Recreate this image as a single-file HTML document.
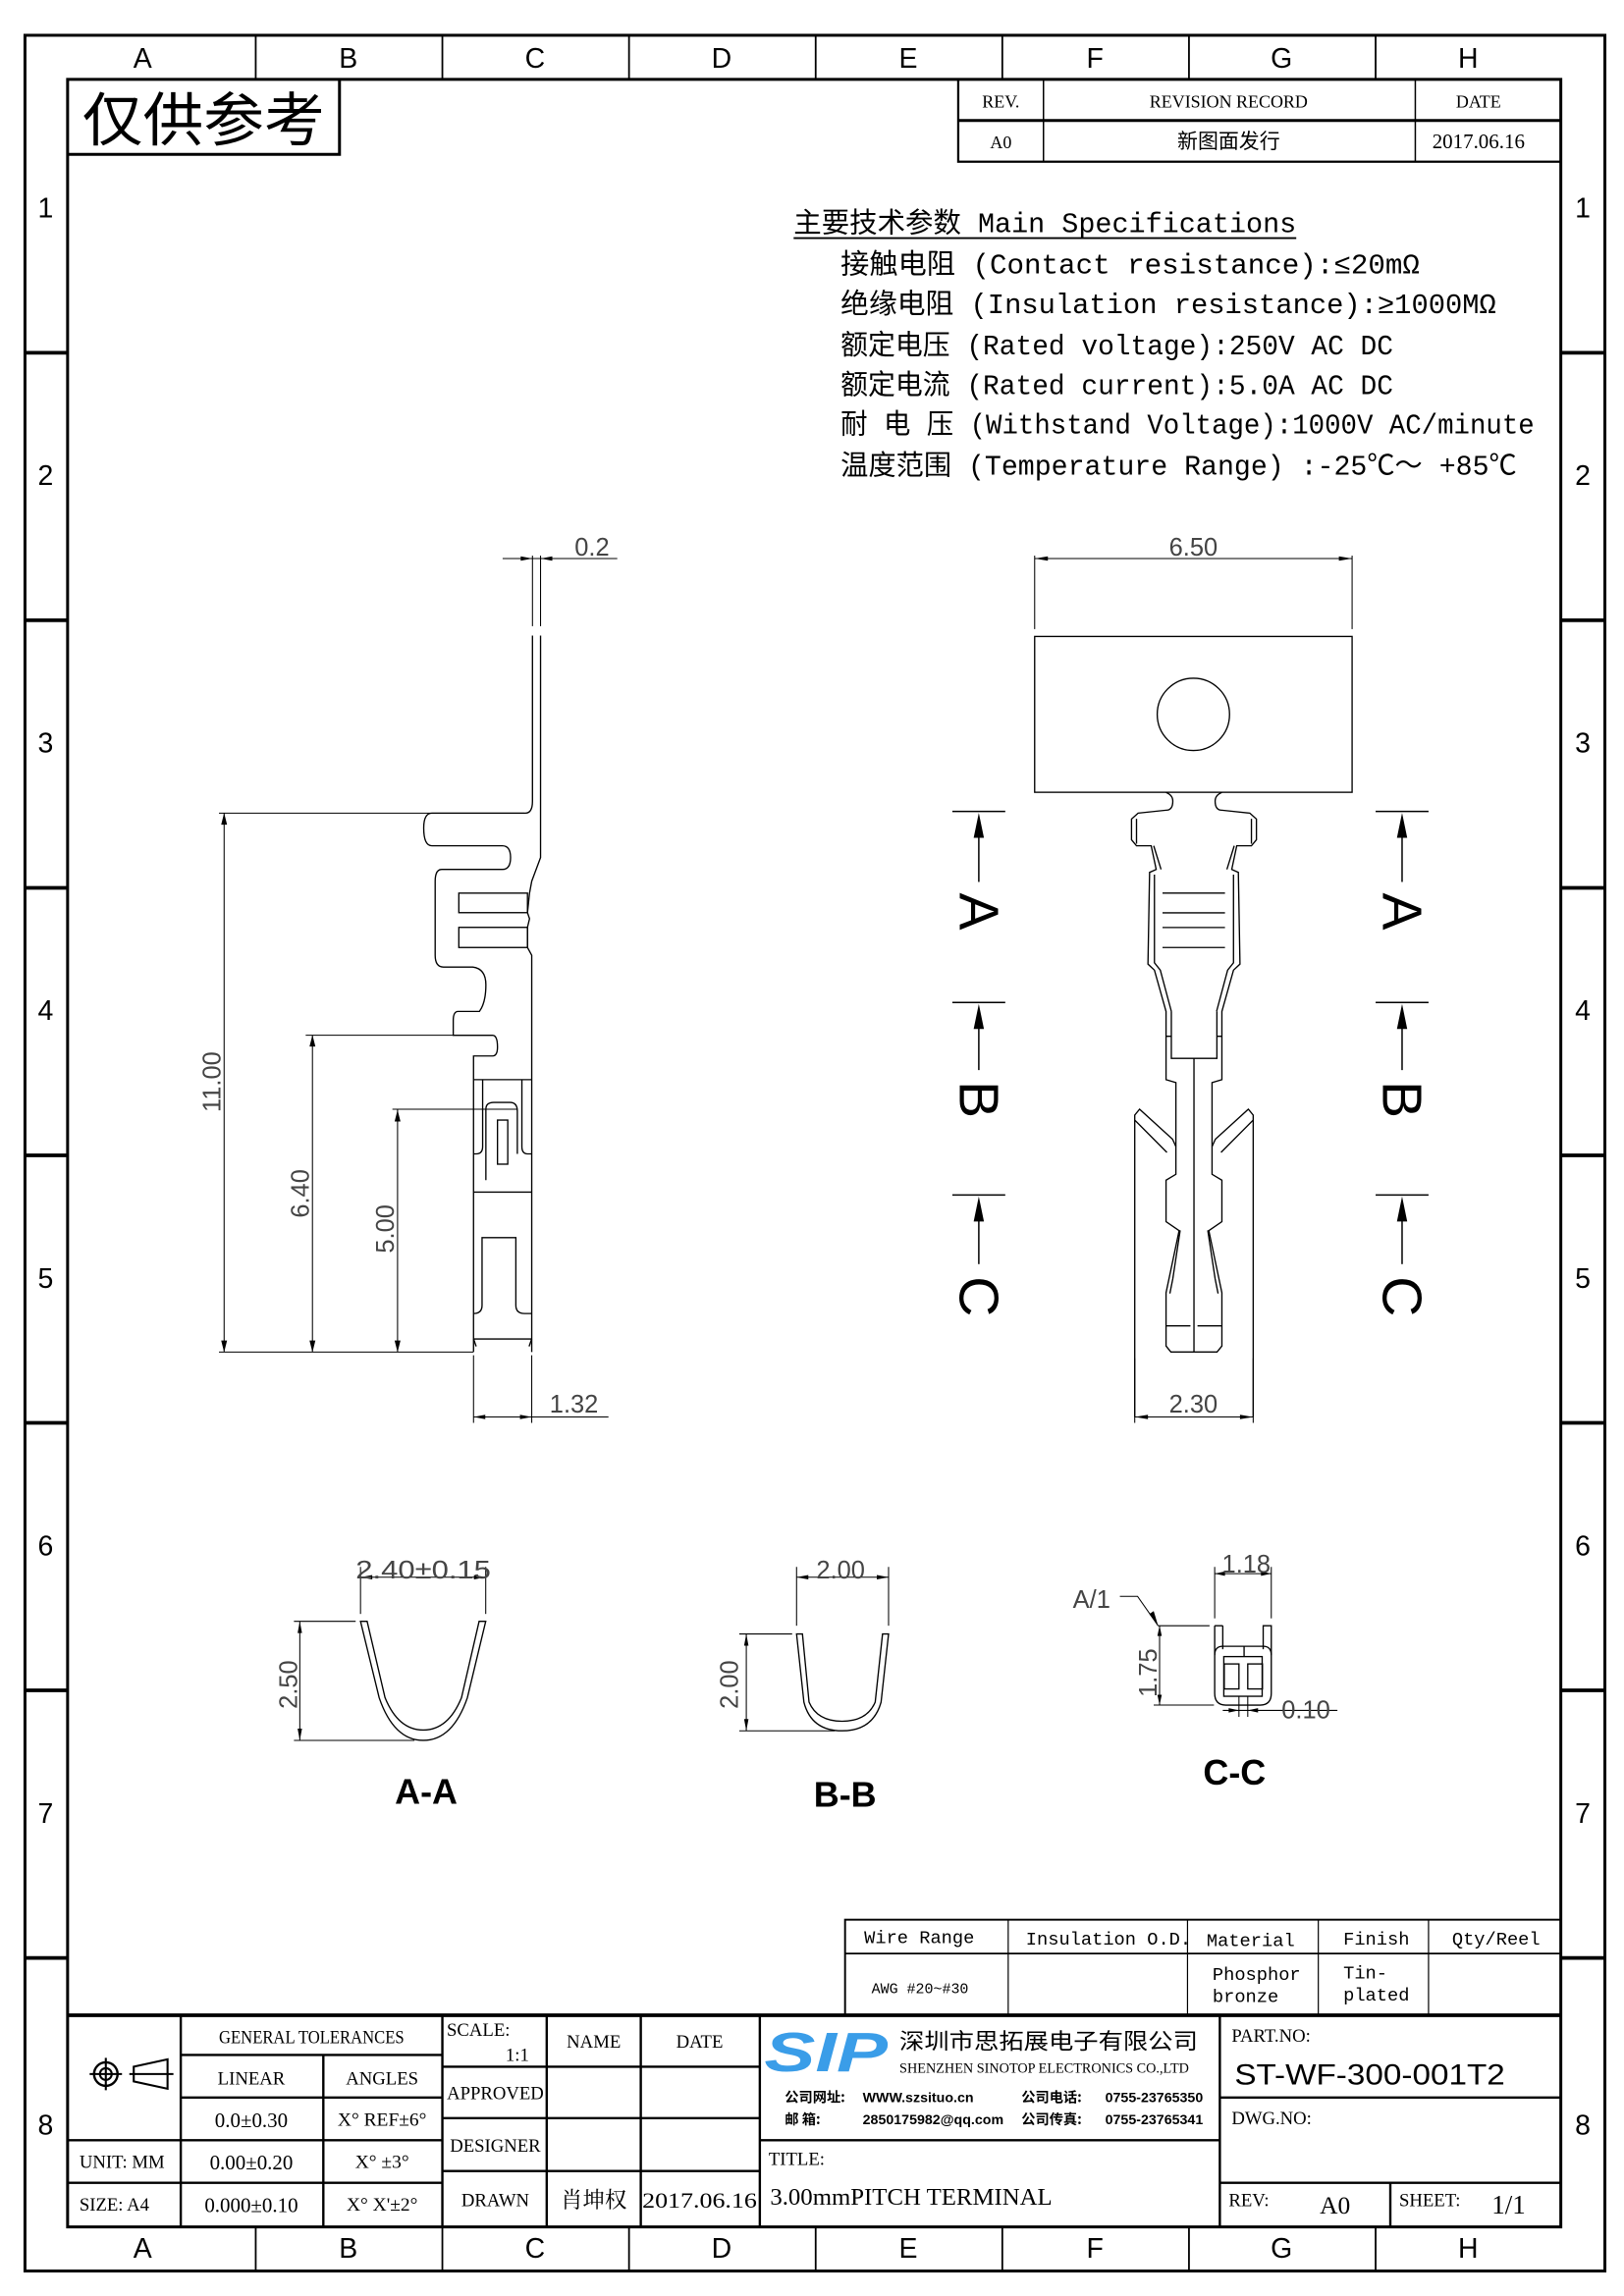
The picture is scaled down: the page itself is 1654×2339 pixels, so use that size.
<!DOCTYPE html>
<html><head><meta charset="utf-8"><style>
html,body{margin:0;padding:0;background:#fff}
svg{display:block}
text{font-family:"Liberation Serif","Noto Serif CJK SC",serif;fill:#000}
.s,.s text{font-family:"Liberation Sans","Noto Sans CJK SC",sans-serif}
.m,.m text{font-family:"Liberation Mono","Noto Sans CJK SC",monospace}
.d,.d text{font-family:"Liberation Sans",sans-serif;fill:#444;font-size:17px}
</style></head><body>
<svg width="1654" height="2339" viewBox="0 0 1105 1562" preserveAspectRatio="none" xmlns="http://www.w3.org/2000/svg">
<g fill="none" stroke="#000">
<rect x="17" y="24" width="1075" height="1521" stroke-width="2"/>
<rect x="46" y="54" width="1016" height="1461" stroke-width="2"/>
<g stroke-width="1.2">
<line x1="174" y1="24" x2="174" y2="54"/><line x1="301" y1="24" x2="301" y2="54"/><line x1="428" y1="24" x2="428" y2="54"/><line x1="555" y1="24" x2="555" y2="54"/><line x1="682" y1="24" x2="682" y2="54"/><line x1="809" y1="24" x2="809" y2="54"/><line x1="936" y1="24" x2="936" y2="54"/>
<line x1="174" y1="1515" x2="174" y2="1545"/><line x1="301" y1="1515" x2="301" y2="1545"/><line x1="428" y1="1515" x2="428" y2="1545"/><line x1="555" y1="1515" x2="555" y2="1545"/><line x1="682" y1="1515" x2="682" y2="1545"/><line x1="809" y1="1515" x2="809" y2="1545"/><line x1="936" y1="1515" x2="936" y2="1545"/>
</g>
<g stroke-width="2.5">
<line x1="17" y1="240" x2="46" y2="240"/><line x1="17" y1="422" x2="46" y2="422"/><line x1="17" y1="604" x2="46" y2="604"/><line x1="17" y1="786" x2="46" y2="786"/><line x1="17" y1="968" x2="46" y2="968"/><line x1="17" y1="1150" x2="46" y2="1150"/><line x1="17" y1="1332" x2="46" y2="1332"/>
<line x1="1062" y1="240" x2="1092" y2="240"/><line x1="1062" y1="422" x2="1092" y2="422"/><line x1="1062" y1="604" x2="1092" y2="604"/><line x1="1062" y1="786" x2="1092" y2="786"/><line x1="1062" y1="968" x2="1092" y2="968"/><line x1="1062" y1="1150" x2="1092" y2="1150"/><line x1="1062" y1="1332" x2="1092" y2="1332"/>
</g>
<polyline points="46,105 231,105 231,54" stroke-width="2"/>
<rect x="652" y="54" width="410" height="56" stroke-width="1.5"/>
<line x1="652" y1="82" x2="1062" y2="82" stroke-width="2"/>
<line x1="710" y1="54" x2="710" y2="110" stroke-width="1"/><line x1="963" y1="54" x2="963" y2="110" stroke-width="1"/>
</g>
<g class="s" font-size="19" text-anchor="middle">
<text x="97" y="46">A</text><text x="237" y="46">B</text><text x="364" y="46">C</text><text x="491" y="46">D</text><text x="618" y="46">E</text><text x="745" y="46">F</text><text x="872" y="46">G</text><text x="999" y="46">H</text>
<text x="97" y="1536">A</text><text x="237" y="1536">B</text><text x="364" y="1536">C</text><text x="491" y="1536">D</text><text x="618" y="1536">E</text><text x="745" y="1536">F</text><text x="872" y="1536">G</text><text x="999" y="1536">H</text>
<text x="31" y="148">1</text><text x="31" y="330">2</text><text x="31" y="512">3</text><text x="31" y="694">4</text><text x="31" y="876">5</text><text x="31" y="1058">6</text><text x="31" y="1240">7</text><text x="31" y="1452">8</text>
<text x="1077" y="148">1</text><text x="1077" y="330">2</text><text x="1077" y="512">3</text><text x="1077" y="694">4</text><text x="1077" y="876">5</text><text x="1077" y="1058">6</text><text x="1077" y="1240">7</text><text x="1077" y="1452">8</text>
</g>
<text x="56" y="96" font-size="40" textLength="165" lengthAdjust="spacingAndGlyphs" style="font-family:'Noto Sans CJK SC',sans-serif">仅供参考</text>
<g font-size="12" text-anchor="middle">
<text x="681" y="73">REV.</text><text x="836" y="73">REVISION RECORD</text><text x="1006" y="73">DATE</text>
<text x="681" y="101">A0</text><text x="836" y="101" style="font-family:'Noto Sans CJK SC',sans-serif" font-size="14">新图面发行</text><text x="1006" y="101" font-size="14">2017.06.16</text>
</g>
<g class="m" font-size="19">
<text x="540" y="158" textLength="342" lengthAdjust="spacingAndGlyphs">主要技术参数 Main Specifications</text>
<text x="572" y="186" textLength="394" lengthAdjust="spacingAndGlyphs">接触电阻 (Contact resistance):≤20mΩ</text>
<text x="572" y="213" textLength="446" lengthAdjust="spacingAndGlyphs">绝缘电阻 (Insulation resistance):≥1000MΩ</text>
<text x="572" y="241" textLength="376" lengthAdjust="spacingAndGlyphs">额定电压 (Rated voltage):250V AC DC</text>
<text x="572" y="268" textLength="376" lengthAdjust="spacingAndGlyphs">额定电流 (Rated current):5.0A AC DC</text>
<text x="572" y="295" textLength="472" lengthAdjust="spacingAndGlyphs">耐 电 压 (Withstand Voltage):1000V AC/minute</text>
<text x="572" y="323" textLength="460" lengthAdjust="spacingAndGlyphs">温度范围 (Temperature Range) :-25℃～ +85℃</text>
</g>
<line x1="540" y1="162" x2="882" y2="162" stroke="#000" stroke-width="1.2"/>

<g fill="none" stroke="#000" stroke-width="0.9">
<path d="M367.8,432.4 L367.8,583.4 L361.8,599.5 L360.3,607.6 L358.9,620.9 L360.3,625 L358.9,630.9 L358.9,644.6 L361.8,649.9 L361.8,919.8"/>
<path d="M362.3,432.4 L362.3,545.1 Q362.3,553.2 357.4,553.2 L293.9,553.2 Q288.3,553.2 288.3,563.3 Q288.3,575.4 293.9,575.4 L341.8,575.4 Q347.4,575.4 347.4,583.4 Q347.4,591.5 341.8,591.5 L300.6,591.5 Q296.1,591.5 296.1,599.5 L296.1,649.9 Q296.1,657.9 301.7,657.9 L321.7,657.9 Q330.6,659 330.6,670 Q330.6,682.1 326.2,688.1 L311.7,688.1 Q308.4,688.1 308.4,694.2 L308.4,704.3 L335.1,704.3 Q338.5,704.3 338.5,712.3 Q338.5,718.4 335.1,718.4 L322.2,718.4 L322.2,919.8"/>
<rect x="312.2" y="607.6" width="46.7" height="13.3"/>
<rect x="312.2" y="630.9" width="46.7" height="13.7"/>
<path d="M322.2,734.5 L361.8,734.5 M328.4,734.5 L328.4,780 Q328.4,785 324,785 L322.2,785 M355.1,734.5 L355.1,780 Q355.1,785 359,785 L361.8,785"/>
<path d="M330.6,802.9 L330.6,754.6 Q330.6,750 336,750 L347,750 Q352,750 352,756 L352,785"/>
<rect x="338.5" y="762" width="7" height="30"/>
<line x1="322.2" y1="811" x2="361.8" y2="811"/>
<path d="M322.2,893.6 Q328,893.6 328,888 L328,842 L351,842 L351,888 Q351,893.6 357,893.6 L361.8,893.6"/>
<path d="M322.2,910.9 L361.8,910.9 M322.2,910.9 L324,916 M361.8,910.9 L360,916"/>
</g>
<g fill="none" stroke="#000" stroke-width="0.7">
<line x1="149" y1="553.2" x2="357" y2="553.2"/><line x1="208" y1="704.3" x2="308" y2="704.3"/><line x1="267" y1="754.6" x2="352" y2="754.6"/>
<line x1="149" y1="919.8" x2="322" y2="919.8"/>
<line x1="152.5" y1="553.2" x2="152.5" y2="919.8"/><line x1="212.6" y1="704.3" x2="212.6" y2="919.8"/><line x1="270.5" y1="754.6" x2="270.5" y2="919.8"/>
<line x1="362.3" y1="378" x2="362.3" y2="426"/><line x1="367.8" y1="378" x2="367.8" y2="426"/><line x1="342" y1="380" x2="420" y2="380"/>
<line x1="322.2" y1="922" x2="322.2" y2="968"/><line x1="361.8" y1="922" x2="361.8" y2="968"/><line x1="322.2" y1="964" x2="414" y2="964"/>
</g>
<g fill="#000">
<path d="M152.5,553 l-2,8 h4z M152.5,920 l-2,-8 h4z M212.6,704 l-2,8 h4z M212.6,920 l-2,-8 h4z M270.5,755 l-2,8 h4z M270.5,920 l-2,-8 h4z"/>
<path d="M362.3,380 l-8,-1.5 v3z M367.8,380 l8,-1.5 v3z M322.2,964 l8,-1.5 v3z M361.8,964 l-8,-1.5 v3z"/>
</g>
<g class="d">
<text x="391" y="378">0.2</text><text x="374" y="961">1.32</text>
<text transform="translate(150,736) rotate(-90)" text-anchor="middle">11.00</text>
<text transform="translate(210,812) rotate(-90)" text-anchor="middle">6.40</text>
<text transform="translate(268,836) rotate(-90)" text-anchor="middle">5.00</text>
</g>

<g fill="none" stroke="#000" stroke-width="0.9">
<rect x="704" y="433" width="216" height="106"/>
<circle cx="812" cy="486" r="24.6"/>
<path id="lh" d="M793.4,539.1 Q798,541 798,545 Q798,551.2 793.4,551.2 L774.4,553.2 L769.9,557.2 L769.9,571.3 L773.3,575.4 L783.3,575.4 L786.7,591.5 L782.2,593.5 L781.1,655.9 L785.5,660 L793.4,688.1 L793.4,734.5 L800.1,736.5 L800.1,798.9 L793.4,802.9 L793.4,831.1 L802.3,837.2 L793.4,879.5 L793.4,915.7 L796.7,919.8 L812.4,919.8"/>
<use href="#lh" transform="translate(1624.8,0) scale(-1,1)"/>
<path d="M773.3,557 L773.3,574 M785,575.4 L790,591.5 M785.5,595 L785.5,655 L789.5,660 L797,688 M797,688 L797,720 L828,720 L828,688 M793.4,705 L797,705 M831.4,705 L828,705"/>
<path d="M851.5,557 L851.5,574 M839.8,575.4 L834.8,591.5 M839.3,595 L839.3,655 L835.3,660 L827.8,688"/>
<line x1="812.4" y1="720" x2="812.4" y2="919.8"/>
<line x1="791" y1="607.6" x2="833.5" y2="607.6"/><line x1="791" y1="621" x2="833.5" y2="621"/><line x1="791" y1="631" x2="833.5" y2="631"/><line x1="791" y1="644.6" x2="833.5" y2="644.6"/>
<path d="M772.1,964 L772.1,758.6 L775.4,754.6 L797.8,775 L800.1,780 M852.7,964 L852.7,758.6 L849.4,754.6 L827,775 L824.7,780"/>
<path d="M772.1,762 L794,784 M852.7,762 L830.8,784"/>
<path d="M803,837 L798,870 L796,880 M821.8,837 L826.8,870 L828.8,880"/>
<path d="M793.4,902 L810,902 M814.8,902 L831.4,902"/>
</g>
<g fill="none" stroke="#000" stroke-width="0.7">
<line x1="704" y1="378" x2="704" y2="428"/><line x1="920" y1="378" x2="920" y2="428"/><line x1="704" y1="380" x2="920" y2="380"/>
<line x1="772.1" y1="964" x2="852.7" y2="964"/><line x1="772.1" y1="924" x2="772.1" y2="968"/><line x1="852.7" y1="924" x2="852.7" y2="968"/>
</g>
<g fill="#000">
<path d="M704,380 l9,-1.5 v3z M920,380 l-9,-1.5 v3z M772.1,964 l9,-1.5 v3z M852.7,964 l-9,-1.5 v3z"/>
</g>
<g class="d"><text x="812" y="378" text-anchor="middle">6.50</text><text x="812" y="961" text-anchor="middle">2.30</text></g>

<g stroke="#000" stroke-width="1" fill="none">
<line x1="648" y1="552" x2="684" y2="552"/><line x1="666" y1="560" x2="666" y2="600"/>
<line x1="648" y1="682" x2="684" y2="682"/><line x1="666" y1="690" x2="666" y2="728"/>
<line x1="648" y1="813" x2="684" y2="813"/><line x1="666" y1="821" x2="666" y2="860"/>
<line x1="936" y1="552" x2="972" y2="552"/><line x1="954" y1="560" x2="954" y2="600"/>
<line x1="936" y1="682" x2="972" y2="682"/><line x1="954" y1="690" x2="954" y2="728"/>
<line x1="936" y1="813" x2="972" y2="813"/><line x1="954" y1="821" x2="954" y2="860"/>
</g>
<g fill="#000">
<path d="M666,553 l-3.5,17 h7z M666,683 l-3.5,17 h7z M666,814 l-3.5,17 h7z M954,553 l-3.5,17 h7z M954,683 l-3.5,17 h7z M954,814 l-3.5,17 h7z"/>
</g>
<g class="s" font-size="38" text-anchor="middle">
<text transform="translate(653,620) rotate(90)">A</text><text transform="translate(653,748) rotate(90)">B</text><text transform="translate(653,882) rotate(90)">C</text>
<text transform="translate(941,620) rotate(90)">A</text><text transform="translate(941,748) rotate(90)">B</text><text transform="translate(941,882) rotate(90)">C</text>
</g>

<g fill="none" stroke="#000" stroke-width="0.9">
<path d="M245.3,1103 L258,1155 Q268,1184 288,1184 Q308,1184 318,1155 L330.5,1103 L326,1103 L314,1155 Q305,1177 288,1177 Q271,1177 262,1155 L249.8,1103 Z"/>
<path d="M542,1111.6 L547,1158 Q552,1177.5 573,1177.5 Q594,1177.5 599.5,1158 L604.6,1111.6 L600.5,1111.6 L595.5,1158 Q590,1171 573,1171 Q556,1171 550.5,1158 L546,1111.6 Z"/>
<path d="M826.5,1106 L826.5,1152 Q826.5,1160 834,1160 L857.5,1160 Q865,1160 865,1152 L865,1106 L859.5,1106 L859.5,1122 M832,1106 L832,1122 M826.5,1106 L832,1106"/>
<path d="M832,1120 L859.5,1120 Q865,1120 865,1126 M832,1120 Q826.5,1120 826.5,1126"/>
<rect x="832.7" y="1127" width="26.1" height="27"/>
<line x1="846.5" y1="1120" x2="846.5" y2="1127"/>
<rect x="833" y="1132" width="10" height="17"/><rect x="849" y="1132" width="10" height="17"/>
</g>
<g fill="none" stroke="#000" stroke-width="0.7">
<line x1="245.3" y1="1066" x2="245.3" y2="1098"/><line x1="330.5" y1="1066" x2="330.5" y2="1098"/><line x1="245.3" y1="1073" x2="330.5" y2="1073"/>
<line x1="200" y1="1103" x2="242" y2="1103"/><line x1="200" y1="1184" x2="282" y2="1184"/><line x1="204" y1="1103" x2="204" y2="1184"/>
<line x1="542" y1="1066" x2="542" y2="1106"/><line x1="604.6" y1="1066" x2="604.6" y2="1106"/><line x1="542" y1="1073" x2="604.6" y2="1073"/>
<line x1="503" y1="1111.6" x2="539" y2="1111.6"/><line x1="503" y1="1177.5" x2="568" y2="1177.5"/><line x1="507.8" y1="1111.6" x2="507.8" y2="1177.5"/>
<line x1="826.5" y1="1066" x2="826.5" y2="1101"/><line x1="865" y1="1066" x2="865" y2="1101"/><line x1="826.5" y1="1070.6" x2="865" y2="1070.6"/>
<polyline points="762,1086 774,1086 788,1106"/><line x1="788" y1="1106" x2="823" y2="1106"/><line x1="789" y1="1106" x2="789" y2="1160"/><line x1="785" y1="1160" x2="826" y2="1160"/>
<line x1="843" y1="1154" x2="843" y2="1168"/><line x1="849" y1="1154" x2="849" y2="1168"/><line x1="832" y1="1163.6" x2="910" y2="1163.6"/>
</g>
<g fill="#000">
<path d="M245.3,1073 l8,-1.5 v3z M330.5,1073 l-8,-1.5 v3z M204,1103 l-1.5,8 h3z M204,1184 l-1.5,-8 h3z M542,1073 l8,-1.5 v3z M604.6,1073 l-8,-1.5 v3z M507.8,1111.6 l-1.5,8 h3z M507.8,1177.5 l-1.5,-8 h3z M826.5,1070.6 l7,-1.5 v3z M865,1070.6 l-7,-1.5 v3z M789,1106 l-1.5,7 h3z M789,1160 l-1.5,-7 h3z M788,1106 l-6,-8 l3,-2z M843,1163.6 l-7,-1.5 v3z M849,1163.6 l7,-1.5 v3z"/>
</g>
<g class="d" font-size="17">
<text x="288" y="1074" text-anchor="middle" textLength="92" lengthAdjust="spacingAndGlyphs">2.40±0.15</text>
<text transform="translate(202,1146) rotate(-90)" text-anchor="middle">2.50</text>
<text x="572" y="1074" text-anchor="middle">2.00</text>
<text transform="translate(502,1146) rotate(-90)" text-anchor="middle">2.00</text>
<text x="848" y="1070" text-anchor="middle">1.18</text>
<text transform="translate(787,1138) rotate(-90)" text-anchor="middle">1.75</text>
<text x="730" y="1094">A/1</text><text x="872" y="1169">0.10</text>
</g>
<g class="s" font-size="24" font-weight="bold" text-anchor="middle">
<text x="290" y="1227">A-A</text><text x="575" y="1229">B-B</text><text x="840" y="1214">C-C</text>
</g>

<g fill="none" stroke="#000">
<rect x="575" y="1306" width="487" height="65" stroke-width="1.3"/>
<line x1="575" y1="1329" x2="1062" y2="1329" stroke-width="1.2"/>
<line x1="686" y1="1306" x2="686" y2="1371" stroke-width="0.8"/><line x1="808" y1="1306" x2="808" y2="1371" stroke-width="0.8"/><line x1="897" y1="1306" x2="897" y2="1371" stroke-width="0.8"/><line x1="972" y1="1306" x2="972" y2="1371" stroke-width="0.8"/>
</g>
<g font-size="12.5" class="m">
<text x="588" y="1322">Wire Range</text><text x="698" y="1323">Insulation O.D.</text><text x="821" y="1324">Material</text><text x="914" y="1323">Finish</text><text x="988" y="1323">Qty/Reel</text>
<text x="593" y="1356" font-size="10">AWG #20~#30</text>
<text x="825" y="1347">Phosphor</text><text x="825" y="1362">bronze</text><text x="914" y="1346">Tin-</text><text x="914" y="1361">plated</text>
</g>

<g fill="none" stroke="#000">
<line x1="46" y1="1371" x2="1062" y2="1371" stroke-width="2.5"/>
<g stroke-width="1.6">
<line x1="123" y1="1371" x2="123" y2="1515"/><line x1="301" y1="1371" x2="301" y2="1515"/><line x1="372" y1="1371" x2="372" y2="1515"/><line x1="436" y1="1371" x2="436" y2="1515"/><line x1="517" y1="1371" x2="517" y2="1515"/><line x1="830" y1="1371" x2="830" y2="1515"/>
<line x1="220" y1="1398" x2="220" y2="1515"/>
<line x1="123" y1="1398" x2="301" y2="1398"/><line x1="123" y1="1427" x2="301" y2="1427"/>
<line x1="46" y1="1456" x2="301" y2="1456"/><line x1="46" y1="1485" x2="301" y2="1485"/>
<line x1="301" y1="1406" x2="517" y2="1406"/><line x1="301" y1="1441" x2="517" y2="1441"/><line x1="301" y1="1477" x2="517" y2="1477"/>
<line x1="517" y1="1456" x2="830" y2="1456"/>
<line x1="830" y1="1427" x2="1062" y2="1427"/><line x1="830" y1="1485" x2="1062" y2="1485"/>
<line x1="946" y1="1485" x2="946" y2="1515"/>
</g>
<circle cx="72" cy="1411" r="8" stroke-width="1.6"/><circle cx="72" cy="1411" r="4" stroke-width="1.4"/>
<line x1="61" y1="1411" x2="83" y2="1411" stroke-width="1.4"/><line x1="72" y1="1400" x2="72" y2="1422" stroke-width="1.4"/>
<path d="M91,1406 L114,1401 L114,1421 L91,1416 Z M88,1411 L118,1411" stroke-width="1.4"/>
</g>
<g font-size="12.5">
<text x="212" y="1390" text-anchor="middle" textLength="126" lengthAdjust="spacingAndGlyphs">GENERAL TOLERANCES</text>
<text x="171" y="1418" text-anchor="middle">LINEAR</text><text x="260" y="1418" text-anchor="middle">ANGLES</text>
<text x="171" y="1447" text-anchor="middle" font-size="14">0.0±0.30</text><text x="260" y="1446" text-anchor="middle" font-size="13">X° REF±6°</text>
<text x="54" y="1475">UNIT: MM</text><text x="171" y="1476" text-anchor="middle" font-size="14">0.00±0.20</text><text x="260" y="1475" text-anchor="middle" font-size="13">X° ±3°</text>
<text x="54" y="1504">SIZE: A4</text><text x="171" y="1505" text-anchor="middle" font-size="14">0.000±0.10</text><text x="260" y="1504" text-anchor="middle" font-size="13">X° X'±2°</text>
<text x="304" y="1385">SCALE:</text><text x="344" y="1402">1:1</text>
<text x="404" y="1393" text-anchor="middle">NAME</text><text x="476" y="1393" text-anchor="middle">DATE</text>
<text x="337" y="1428" text-anchor="middle">APPROVED</text><text x="337" y="1464" text-anchor="middle">DESIGNER</text><text x="337" y="1501" text-anchor="middle">DRAWN</text>
<text x="404" y="1502" text-anchor="middle" font-size="15" style="font-family:'Noto Serif CJK SC',serif">肖坤权</text>
<text x="476" y="1502" text-anchor="middle" font-size="15" textLength="78" lengthAdjust="spacingAndGlyphs">2017.06.16</text>
<text x="523" y="1473">TITLE:</text>
<text x="524" y="1500" font-size="16" textLength="192" lengthAdjust="spacingAndGlyphs">3.00mmPITCH TERMINAL</text>
<text x="838" y="1389">PART.NO:</text>
<text x="838" y="1445">DWG.NO:</text>
<text x="836" y="1501">REV:</text><text x="898" y="1506" font-size="17">A0</text>
<text x="952" y="1501">SHEET:</text><text x="1015" y="1506" font-size="18">1/1</text>
</g>
<text x="840" y="1418" class="s" font-size="20" textLength="184" lengthAdjust="spacingAndGlyphs">ST-WF-300-001T2</text>
<text x="520" y="1409" class="s" font-size="38" font-weight="bold" font-style="italic" style="fill:#3a9de8" textLength="84" lengthAdjust="spacingAndGlyphs">SIP</text>
<text x="612" y="1394" font-size="15" style="font-family:'Noto Sans CJK SC',sans-serif" textLength="203" lengthAdjust="spacingAndGlyphs">深圳市思拓展电子有限公司</text>
<text x="612" y="1410" font-size="9.5" textLength="197" lengthAdjust="spacingAndGlyphs">SHENZHEN SINOTOP ELECTRONICS CO.,LTD</text>
<g font-size="9.5" font-weight="bold" class="s">
<text x="534" y="1430" style="font-family:'Noto Sans CJK SC',sans-serif">公司网址:</text><text x="587" y="1430">WWW.szsituo.cn</text>
<text x="695" y="1430" style="font-family:'Noto Sans CJK SC',sans-serif">公司电话:</text><text x="752" y="1430">0755-23765350</text>
<text x="534" y="1445" style="font-family:'Noto Sans CJK SC',sans-serif">邮    箱:</text><text x="587" y="1445">2850175982@qq.com</text>
<text x="695" y="1445" style="font-family:'Noto Sans CJK SC',sans-serif">公司传真:</text><text x="752" y="1445">0755-23765341</text>
</g>
</svg>
</body></html>
